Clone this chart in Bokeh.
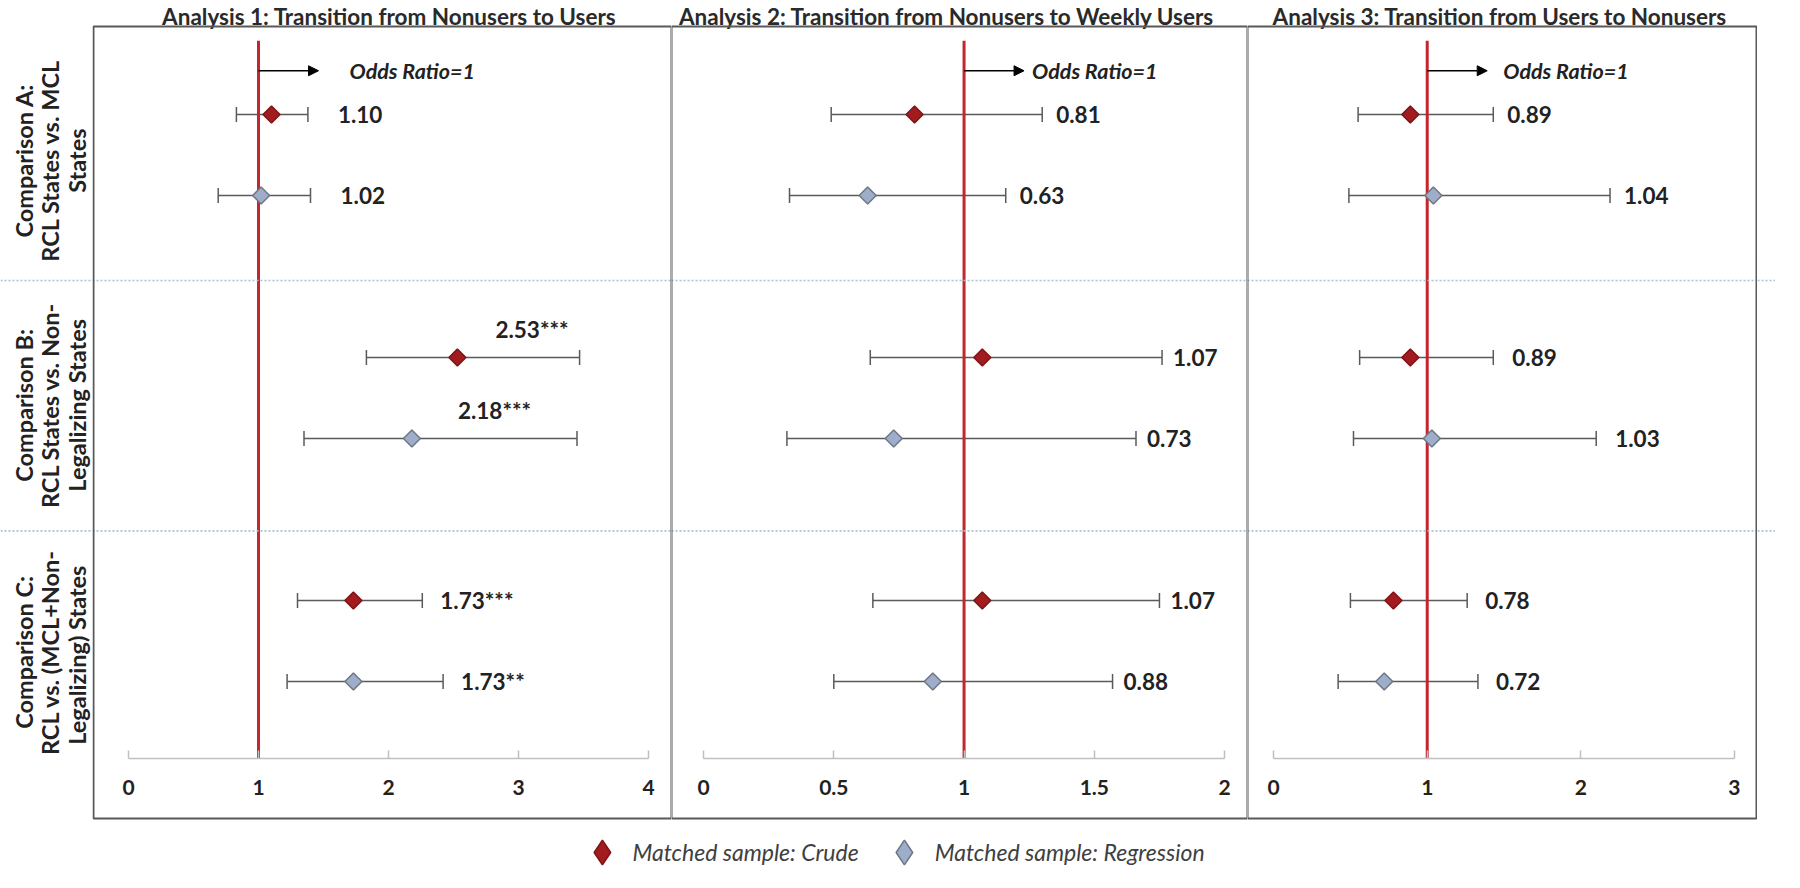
import numpy as np
from bokeh.plotting import figure
from bokeh.models import (Range1d, LinearAxis, FixedTicker, Whisker, TeeHead, Arrow,
                          NormalHead, ColumnDataSource, Legend, LegendItem, Label, Span,
                          BoxAnnotation)
from bokeh.layouts import row, column
from bokeh.embed import file_html
from bokeh.resources import INLINE
from bokeh.core.properties import value

# ---------------- data ----------------
comparisons = ["A", "B", "C"]
comparison_lines = [
    ["Comparison A:", "RCL States vs. MCL", "States"],
    ["Comparison B:", "RCL States vs. Non-", "Legalizing States"],
    ["Comparison C:", "RCL vs. (MCL+Non-", "Legalizing)  States"],
]
analysis_titles = [
    "Analysis 1: Transition  from Nonusers to Users",
    "Analysis 2: Transition  from Nonusers to Weekly Users",
    "Analysis 3: Transition  from Users to Nonusers",
]
series_names = ["Matched sample: Crude", "Matched sample: Regression"]

# Analysis 1
a1_crude_or = [1.10, 2.53, 1.73]
a1_crude_lo = [0.83, 1.83, 1.30]
a1_crude_hi = [1.38, 3.47, 2.26]
a1_crude_sig = ["", "***", "***"]
a1_reg_or = [1.02, 2.18, 1.73]
a1_reg_lo = [0.69, 1.35, 1.22]
a1_reg_hi = [1.40, 3.45, 2.42]
a1_reg_sig = ["", "***", "**"]
# Analysis 2
a2_crude_or = [0.81, 1.07, 1.07]
a2_crude_lo = [0.49, 0.64, 0.65]
a2_crude_hi = [1.30, 1.76, 1.75]
a2_crude_sig = ["", "", ""]
a2_reg_or = [0.63, 0.73, 0.88]
a2_reg_lo = [0.33, 0.32, 0.50]
a2_reg_hi = [1.16, 1.66, 1.57]
a2_reg_sig = ["", "", ""]
# Analysis 3
a3_crude_or = [0.89, 0.89, 0.78]
a3_crude_lo = [0.55, 0.56, 0.50]
a3_crude_hi = [1.43, 1.43, 1.26]
a3_crude_sig = ["", "", ""]
a3_reg_or = [1.04, 1.03, 0.72]
a3_reg_lo = [0.49, 0.52, 0.42]
a3_reg_hi = [2.19, 2.10, 1.33]
a3_reg_sig = ["", "", ""]

a1_ticks = [0, 1, 2, 3, 4]
a1_tick_labels = ["0", "1", "2", "3", "4"]
a2_ticks = [0, 0.5, 1, 1.5, 2]
a2_tick_labels = ["0", "0.5", "1", "1.5", "2"]
a3_ticks = [0, 1, 2, 3]
a3_tick_labels = ["0", "1", "2", "3"]

odds_ratio_ref = 1.0
ref_label = "Odds Ratio=1"

analyses = [
    dict(crude=(a1_crude_or, a1_crude_lo, a1_crude_hi, a1_crude_sig),
         reg=(a1_reg_or, a1_reg_lo, a1_reg_hi, a1_reg_sig),
         ticks=a1_ticks, tick_labels=a1_tick_labels),
    dict(crude=(a2_crude_or, a2_crude_lo, a2_crude_hi, a2_crude_sig),
         reg=(a2_reg_or, a2_reg_lo, a2_reg_hi, a2_reg_sig),
         ticks=a2_ticks, tick_labels=a2_tick_labels),
    dict(crude=(a3_crude_or, a3_crude_lo, a3_crude_hi, a3_crude_sig),
         reg=(a3_reg_or, a3_reg_lo, a3_reg_hi, a3_reg_sig),
         ticks=a3_ticks, tick_labels=a3_tick_labels),
]

# ---------------- layout / style ----------------
FONT = "Lato"
TEXT_COLOR = "#222222"
CRUDE_FILL, CRUDE_LINE = "#a11b1f", "#7d1416"
REG_FILL, REG_LINE = "#9eadc9", "#6e7784"
RED = "#c1272d"
BOX = "#595959"
WHISK = "#5a5a5a"
SEP_COLOR = "#a9bfd2"

PX_PER_ROW = 81
FRAME_H = 820
Y_TOP = -114 / PX_PER_ROW
Y_BOTTOM = Y_TOP + FRAME_H / PX_PER_ROW
BOX_TOP = -1.086
BOX_BOTTOM = 8.69
TITLE_Y = -1.215
AXIS_Y = 7.95
RED_TOP = -0.91
ARROW_Y = -0.54
SEPARATORS = [2.05, 5.14]
LABEL_CENTERS = [0.57, 3.59, 6.64]
SECTION_STEP = 3
ARROW_PX = 60

PANELS = [
    dict(fw=579, x0=-0.277, x1=4.177, arrow_gap=31, gaps=[30, 18, 18],
         title_dx=10, inset=(1.0, 0)),
    dict(fw=576, x0=-0.123, x1=2.088, arrow_gap=8, gaps=[14, 11, 11],
         title_dx=-10, inset=(0, 0)),
    dict(fw=510, x0=-0.17, x1=3.15, arrow_gap=16, gaps=[14, 19, 18],
         title_dx=0, inset=(0, 1.0)),
]
TITLE_SIZE = "22.5px"
VALUE_SIZE = "22.5px"


def base_fig(fw, x_range):
    p = figure(frame_width=fw, frame_height=FRAME_H, x_range=x_range,
               y_range=Range1d(Y_BOTTOM, Y_TOP), output_backend="svg",
               toolbar_location=None, x_axis_location=None, y_axis_location=None,
               min_border=0)
    p.grid.visible = False
    p.outline_line_color = None
    p.background_fill_color = "white"
    p.border_fill_color = "white"
    for s in SEPARATORS:
        p.add_layout(Span(location=s, dimension="width", line_color=SEP_COLOR,
                          line_width=1.6, line_dash="2 2"))
    return p


# left label column
lab = base_fig(92, Range1d(-0.852, 2.556))
lx, ly, lt = [], [], []
for k, lines in enumerate(comparison_lines):
    for j, t in enumerate(lines):
        lx.append(j)
        ly.append(LABEL_CENTERS[k])
        lt.append(t)
lab.text(x=lx, y=ly, text=lt, angle=np.pi / 2, text_align="center",
         text_baseline="middle", text_font=value(FONT), text_font_size="23.5px",
         text_font_style="bold", text_color=TEXT_COLOR)

figs = [lab]
for i, an in enumerate(analyses):
    st = PANELS[i]
    p = base_fig(st["fw"], Range1d(st["x0"], st["x1"]))
    scale = st["fw"] / (st["x1"] - st["x0"])

    # panel box and title
    p.add_layout(BoxAnnotation(top=BOX_TOP, bottom=BOX_BOTTOM,
                               left=st["x0"] + st["inset"][0] / scale,
                               right=st["x1"] - st["inset"][1] / scale,
                               fill_alpha=0, line_color=BOX, line_alpha=1.0,
                               line_width=2, level="overlay"))
    p.add_layout(Label(x=(st["x0"] + st["x1"]) / 2, y=TITLE_Y, x_offset=st["title_dx"],
                       text=analysis_titles[i], text_align="center",
                       text_baseline="middle", text_font=FONT,
                       text_font_size=TITLE_SIZE, text_font_style="bold",
                       text_color="#2a2a2a"))

    # axis inside the box
    ax = LinearAxis(fixed_location=AXIS_Y, ticker=FixedTicker(ticks=an["ticks"]),
                    bounds=(an["ticks"][0], an["ticks"][-1]))
    ax.major_label_overrides = {t: l for t, l in zip(an["ticks"], an["tick_labels"])}
    ax.axis_line_color = "#c0c0c0"
    ax.axis_line_width = 1.5
    ax.major_tick_line_color = "#c0c0c0"
    ax.major_tick_line_width = 1.5
    ax.major_tick_in = 8
    ax.major_tick_out = 0
    ax.minor_tick_line_color = None
    ax.major_label_standoff = 22
    ax.major_label_text_font = FONT
    ax.major_label_text_font_size = "21px"
    ax.major_label_text_font_style = "bold"
    ax.major_label_text_color = TEXT_COLOR
    p.add_layout(ax, "below")

    # reference line
    p.segment(x0=[odds_ratio_ref], y0=[RED_TOP], x1=[odds_ratio_ref], y1=[AXIS_Y],
              line_color=RED, line_width=3)

    for key, off, fill, line in (("crude", 0, CRUDE_FILL, CRUDE_LINE),
                                 ("reg", 1, REG_FILL, REG_LINE)):
        orv, lo, hi, sig = an[key]
        ys = [k * SECTION_STEP + off for k in range(len(comparisons))]
        src = ColumnDataSource(dict(y=ys, orv=orv, lo=lo, hi=hi,
                                    lab=[f"{v:.2f}{s}" for v, s in zip(orv, sig)]))
        p.add_layout(Whisker(source=src, base="y", lower="lo", upper="hi",
                             dimension="width", line_color=WHISK, line_width=1.5,
                             upper_head=TeeHead(size=15, line_color=WHISK, line_width=1.5),
                             lower_head=TeeHead(size=15, line_color=WHISK, line_width=1.5)))
        p.scatter(x="orv", y="y", source=src, marker="square", angle=np.pi / 4,
                  size=12, fill_color=fill, line_color=line, line_width=1.5)
        # value labels
        for k in range(len(comparisons)):
            if i == 0 and k == 1:
                p.text(x=[orv[k]], y=[ys[k]], text=[src.data["lab"][k]],
                       x_offset=38 if key == "crude" else 46, y_offset=-28,
                       text_baseline="middle", text_font=value(FONT),
                       text_font_size=VALUE_SIZE, text_font_style="bold",
                       text_color=TEXT_COLOR)
            else:
                p.text(x=[hi[k]], y=[ys[k]], text=[src.data["lab"][k]],
                       x_offset=st["gaps"][k], text_baseline="middle",
                       text_font=value(FONT), text_font_size=VALUE_SIZE,
                       text_font_style="bold", text_color=TEXT_COLOR)

    # odds ratio arrow
    x_end = odds_ratio_ref + ARROW_PX / scale
    p.add_layout(Arrow(x_start=odds_ratio_ref, y_start=ARROW_Y, x_end=x_end, y_end=ARROW_Y,
                       line_color="black", line_width=1.6,
                       end=NormalHead(size=10, fill_color="black", line_color="black")))
    p.add_layout(Label(x=x_end, y=ARROW_Y, x_offset=st["arrow_gap"], text=ref_label,
                       text_baseline="middle", text_font=FONT, text_font_size="21.5px",
                       text_font_style="bold italic", text_color=TEXT_COLOR))
    figs.append(p)

# right strip (separators continue)
rt = base_fig(18, Range1d(0, 1))
figs.append(rt)

top = row(*figs, spacing=0)

# legend strip
lf = figure(width=1775, height=64, x_range=Range1d(0, 1), y_range=Range1d(0, 1),
            output_backend="svg", toolbar_location=None, x_axis_location=None,
            y_axis_location=None, min_border=0)
lf.outline_line_color = None
lf.grid.visible = False
r1 = lf.scatter(x=[np.nan], y=[np.nan], marker="diamond", size=26,
                fill_color=CRUDE_FILL, line_color=CRUDE_LINE, line_width=1.5)
r2 = lf.scatter(x=[np.nan], y=[np.nan], marker="diamond", size=26,
                fill_color=REG_FILL, line_color=REG_LINE, line_width=1.5)
leg = Legend(items=[LegendItem(label=series_names[0], renderers=[r1]),
                    LegendItem(label=series_names[1], renderers=[r2])],
             orientation="horizontal", location="center", spacing=14,
             glyph_width=62, glyph_height=62, label_standoff=-12, padding=0, margin=0,
             border_line_color=None, background_fill_alpha=0,
             label_text_font=FONT, label_text_font_size="23px",
             label_text_font_style="italic", label_text_color="#404040")
lf.add_layout(leg, "center")

layout = column(top, lf, spacing=0)
open("out.html", "w").write(file_html(layout, INLINE))
